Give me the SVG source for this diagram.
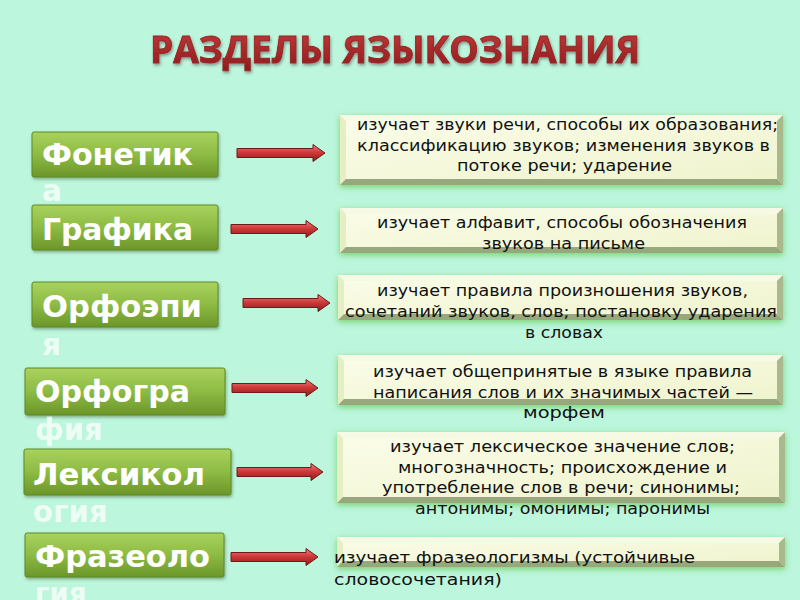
<svg xmlns="http://www.w3.org/2000/svg" width="800" height="600" viewBox="0 0 800 600">
<defs>
<linearGradient id="gTitle" x1="0" y1="0" x2="0" y2="1"><stop offset="0" stop-color="#c83c3c"/><stop offset="1" stop-color="#8a1a1a"/></linearGradient>
<linearGradient id="gGreen" x1="0" y1="0" x2="0" y2="1"><stop offset="0" stop-color="#a9d25e"/><stop offset="0.5" stop-color="#8dbb44"/><stop offset="1" stop-color="#6c962a"/></linearGradient>
<linearGradient id="gFace" x1="0" y1="0" x2="1" y2="1"><stop offset="0" stop-color="#fbfde9"/><stop offset="1" stop-color="#eef3cc"/></linearGradient>
<linearGradient id="gArrow" x1="0" y1="0" x2="0" y2="1"><stop offset="0" stop-color="#f08080"/><stop offset="0.45" stop-color="#d03a3a"/><stop offset="1" stop-color="#8c1c1c"/></linearGradient>
<filter id="fGlow" x="-10%" y="-30%" width="120%" height="160%"><feDropShadow dx="0" dy="2" stdDeviation="3" flood-color="#70cc60" flood-opacity="0.9"/></filter>
<filter id="fShadow" x="-10%" y="-30%" width="120%" height="160%"><feDropShadow dx="1" dy="2" stdDeviation="1.5" flood-color="#4a6a40" flood-opacity="0.5"/></filter>
<filter id="fTitle" x="-5%" y="-30%" width="110%" height="160%"><feDropShadow dx="1" dy="2" stdDeviation="1.5" flood-color="#707070" flood-opacity="0.7"/></filter>
</defs>
<style>
.lbl{font-family:"DejaVu Sans",Verdana,sans-serif;font-weight:bold;font-size:30px;fill:#ffffff}
.ovf{opacity:0.75}
.gbox{fill:url(#gGreen);stroke:#5e8a22;stroke-width:1;filter:url(#fShadow)}
.face{fill:url(#gFace)}
.bt{fill:#f6f9e4}.bl{fill:#e6eec4}.br{fill:#a9b98e}.bb{fill:#97a87c}
.desc{font-family:"DejaVu Sans",Verdana,sans-serif;font-size:15px;fill:#111111}
.arr{fill:url(#gArrow);stroke:#6e1a1a;stroke-width:1}
</style>
<rect width="800" height="600" fill="#bcf6dc"/>
<text x="150" y="63" textLength="490" lengthAdjust="spacingAndGlyphs" font-family="'Open Sans','DejaVu Sans',sans-serif" font-weight="bold" font-size="37" fill="url(#gTitle)" stroke="#9a2020" stroke-width="0.9" filter="url(#fTitle)">РАЗДЕЛЫ ЯЗЫКОЗНАНИЯ</text>

<g id="n-fonetika">
<rect class="gbox" x="32" y="132" width="186" height="45" rx="2"/>
<text class="lbl" x="42" y="165" textLength="151" lengthAdjust="spacingAndGlyphs">Фонетик</text>
<text class="lbl ovf" x="42" y="201">а</text>
</g>
<g id="n-grafika">
<rect class="gbox" x="32" y="205" width="186" height="45" rx="2"/>
<text class="lbl" x="42" y="240" textLength="151" lengthAdjust="spacingAndGlyphs">Графика</text>
</g>
<g id="n-orfoepia">
<rect class="gbox" x="32" y="282" width="186" height="45" rx="2"/>
<text class="lbl" x="42" y="317" textLength="160" lengthAdjust="spacingAndGlyphs">Орфоэпи</text>
<text class="lbl ovf" x="42" y="355">я</text>
</g>
<g id="n-orfografia">
<rect class="gbox" x="25" y="368" width="200" height="47" rx="2"/>
<text class="lbl" x="35" y="402" textLength="155" lengthAdjust="spacingAndGlyphs">Орфогра</text>
<text class="lbl ovf" x="35" y="440" textLength="68" lengthAdjust="spacingAndGlyphs">фия</text>
</g>
<g id="n-leksikologia">
<rect class="gbox" x="24" y="449" width="207" height="46" rx="2"/>
<text class="lbl" x="33" y="485" textLength="172" lengthAdjust="spacingAndGlyphs">Лексикол</text>
<text class="lbl ovf" x="33" y="522" textLength="75" lengthAdjust="spacingAndGlyphs">огия</text>
</g>
<g id="n-frazeologia">
<rect class="gbox" x="25" y="533" width="199" height="44" rx="2"/>
<text class="lbl" x="35" y="567" textLength="175" lengthAdjust="spacingAndGlyphs">Фразеоло</text>
<text class="lbl ovf" x="35" y="604" textLength="52" lengthAdjust="spacingAndGlyphs">гия</text>
</g>

<g id="connectors">
<path class="arr" d="M237,148.5 L313,148.5 L313,144.5 L325,153 L313,161.5 L313,157.5 L237,157.5 Z"/>
<path class="arr" d="M231,224.5 L306,224.5 L306,220.5 L318,229 L306,237.5 L306,233.5 L231,233.5 Z"/>
<path class="arr" d="M243,298.5 L318,298.5 L318,294.5 L330,303 L318,311.5 L318,307.5 L243,307.5 Z"/>
<path class="arr" d="M232,383.5 L306,383.5 L306,379.5 L318,388 L306,396.5 L306,392.5 L232,392.5 Z"/>
<path class="arr" d="M237,467.5 L311,467.5 L311,463.5 L323,472 L311,480.5 L311,476.5 L237,476.5 Z"/>
<path class="arr" d="M231,552.5 L306,552.5 L306,548.5 L318,557 L306,565.5 L306,561.5 L231,561.5 Z"/>
</g>

<g id="d-fonetika">
<g filter="url(#fGlow)">
<rect class="face" x="340" y="115" width="443" height="70"/>
<polygon class="bt" points="340,115 783,115 777,121 346,121"/>
<polygon class="bl" points="340,115 346,121 346,179 340,185"/>
<polygon class="br" points="783,115 783,185 777,179 777,121"/>
<polygon class="bb" points="340,185 346,179 777,179 783,185"/>
</g>
<text class="desc" x="357" y="130" textLength="421" lengthAdjust="spacingAndGlyphs">изучает звуки речи, способы их образования;</text>
<text class="desc" x="357" y="150.5" textLength="413" lengthAdjust="spacingAndGlyphs">классификацию звуков; изменения звуков в</text>
<text class="desc" x="457" y="171" textLength="215" lengthAdjust="spacingAndGlyphs">потоке речи; ударение</text>
</g>
<g id="d-grafika">
<g filter="url(#fGlow)">
<rect class="face" x="340" y="208" width="443" height="45"/>
<polygon class="bt" points="340,208 783,208 777,214 346,214"/>
<polygon class="bl" points="340,208 346,214 346,247 340,253"/>
<polygon class="br" points="783,208 783,253 777,247 777,214"/>
<polygon class="bb" points="340,253 346,247 777,247 783,253"/>
</g>
<text class="desc" x="377" y="228" textLength="370" lengthAdjust="spacingAndGlyphs">изучает алфавит, способы обозначения</text>
<text class="desc" x="482" y="248.5" textLength="163" lengthAdjust="spacingAndGlyphs">звуков на письме</text>
</g>
<g id="d-orfoepia">
<g filter="url(#fGlow)">
<rect class="face" x="338" y="275" width="445" height="45"/>
<polygon class="bt" points="338,275 783,275 777,281 344,281"/>
<polygon class="bl" points="338,275 344,281 344,314 338,320"/>
<polygon class="br" points="783,275 783,320 777,314 777,281"/>
<polygon class="bb" points="338,320 344,314 777,314 783,320"/>
</g>
<text class="desc" x="377" y="296" textLength="371" lengthAdjust="spacingAndGlyphs">изучает правила произношения звуков,</text>
<text class="desc" x="345" y="317" textLength="432" lengthAdjust="spacingAndGlyphs">сочетаний звуков, слов; постановку ударения</text>
<text class="desc" x="525" y="338" textLength="78" lengthAdjust="spacingAndGlyphs">в словах</text>
</g>
<g id="d-orfografia">
<g filter="url(#fGlow)">
<rect class="face" x="338" y="355" width="445" height="50"/>
<polygon class="bt" points="338,355 783,355 777,361 344,361"/>
<polygon class="bl" points="338,355 344,361 344,399 338,405"/>
<polygon class="br" points="783,355 783,405 777,399 777,361"/>
<polygon class="bb" points="338,405 344,399 777,399 783,405"/>
</g>
<text class="desc" x="373" y="377" textLength="379" lengthAdjust="spacingAndGlyphs">изучает общепринятые в языке правила</text>
<text class="desc" x="373" y="397.5" textLength="380" lengthAdjust="spacingAndGlyphs">написания слов и их значимых частей —</text>
<text class="desc" x="523" y="418" textLength="82" lengthAdjust="spacingAndGlyphs">морфем</text>
</g>
<g id="d-leksikologia">
<g filter="url(#fGlow)">
<rect class="face" x="337" y="432" width="448" height="71"/>
<polygon class="bt" points="337,432 785,432 779,438 343,438"/>
<polygon class="bl" points="337,432 343,438 343,497 337,503"/>
<polygon class="br" points="785,432 785,503 779,497 779,438"/>
<polygon class="bb" points="337,503 343,497 779,497 785,503"/>
</g>
<text class="desc" x="390" y="452" textLength="345" lengthAdjust="spacingAndGlyphs">изучает лексическое значение слов;</text>
<text class="desc" x="398" y="472.5" textLength="329" lengthAdjust="spacingAndGlyphs">многозначность; происхождение и</text>
<text class="desc" x="382" y="493" textLength="358" lengthAdjust="spacingAndGlyphs">употребление слов в речи; синонимы;</text>
<text class="desc" x="415" y="513.5" textLength="295" lengthAdjust="spacingAndGlyphs">антонимы; омонимы; паронимы</text>
</g>
<g id="d-frazeologia">
<g filter="url(#fGlow)">
<rect class="face" x="337" y="537" width="448" height="30"/>
<polygon class="bt" points="337,537 785,537 779,543 343,543"/>
<polygon class="bl" points="337,537 343,543 343,561 337,567"/>
<polygon class="br" points="785,537 785,567 779,561 779,543"/>
<polygon class="bb" points="337,567 343,561 779,561 785,567"/>
</g>
<text class="desc" x="334" y="563" textLength="361" lengthAdjust="spacingAndGlyphs">изучает фразеологизмы (устойчивые</text>
<text class="desc" x="334" y="585" textLength="168" lengthAdjust="spacingAndGlyphs">словосочетания)</text>
</g>
</svg>
